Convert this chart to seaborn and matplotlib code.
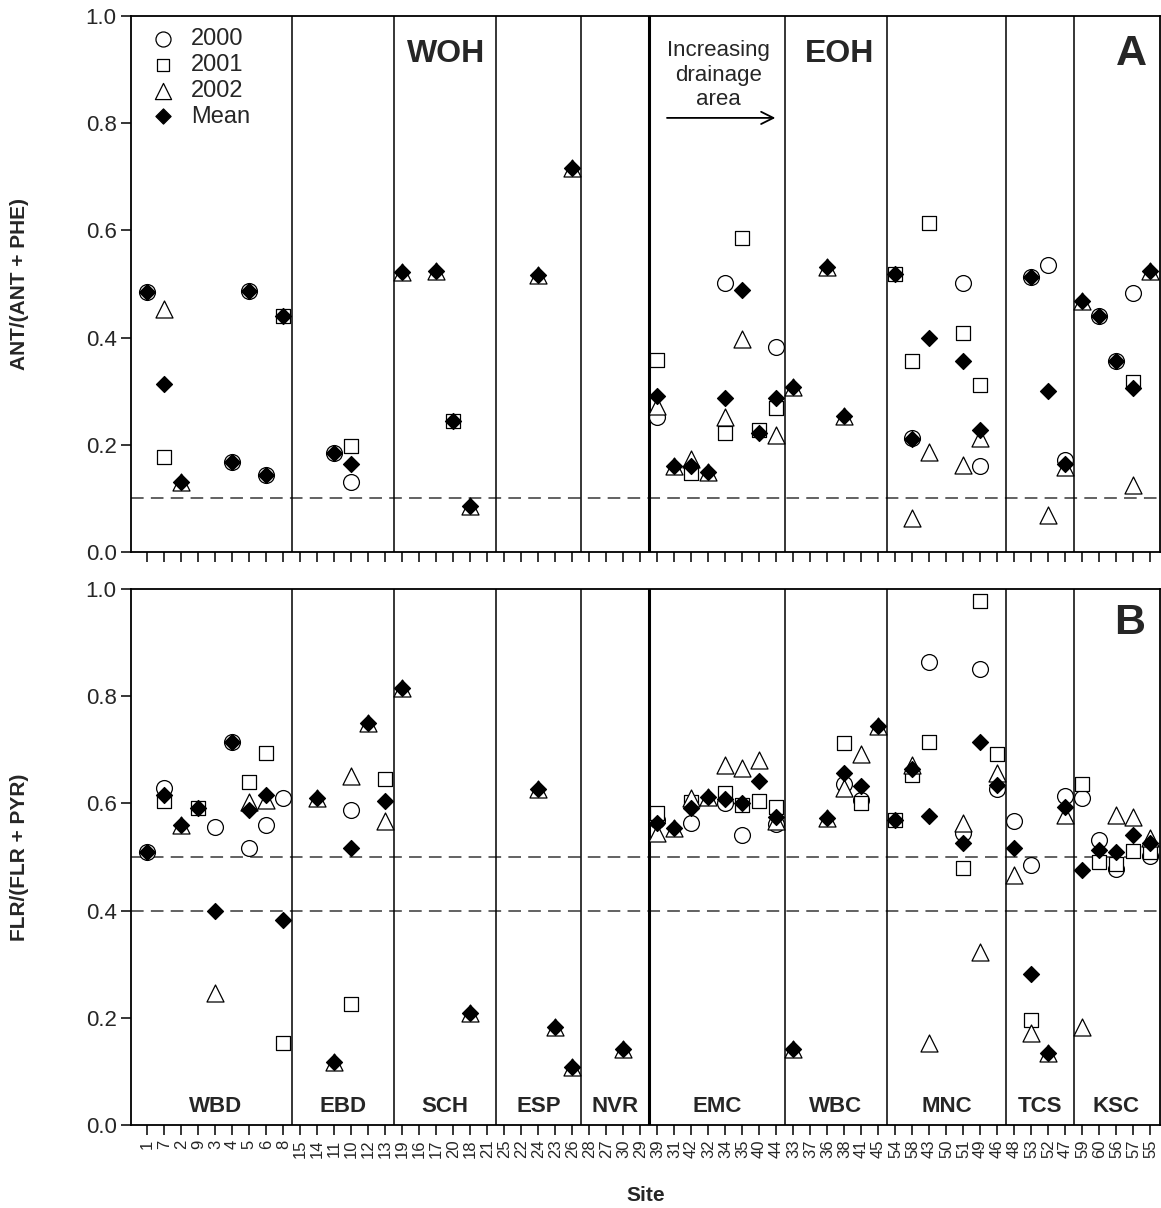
import numpy as np
import matplotlib.pyplot as plt
import seaborn as sns

nan = np.nan

# site order along the x axis, grouped by stream
sites = ["1", "7", "2", "9", "3", "4", "5", "6", "8",
         "15", "14", "11", "10", "12", "13",
         "19", "16", "17", "20", "18", "21",
         "25", "22", "24", "23", "26",
         "28", "27", "30", "29",
         "39", "31", "42", "32", "34", "35", "40", "44",
         "33", "37", "36", "38", "41", "45",
         "54", "58", "43", "50", "51", "49", "46",
         "48", "53", "52", "47",
         "59", "60", "56", "57", "55"]
groups = ["WBD", "EBD", "SCH", "ESP", "NVR", "EMC", "WBC", "MNC", "TCS", "KSC"]
group_sizes = [9, 6, 6, 5, 4, 8, 6, 7, 4, 5]

# panel A: ANT/(ANT + PHE)
ant_2000 = [0.485, nan, nan, nan, nan, 0.168, 0.487, 0.144, nan,
            nan, nan, 0.185, 0.131, nan, nan,
            nan, nan, nan, nan, nan, nan,
            nan, nan, nan, nan, nan,
            nan, nan, nan, nan,
            0.252, nan, nan, nan, 0.502, nan, nan, 0.383,
            nan, nan, nan, nan, nan, nan,
            nan, 0.212, nan, nan, 0.502, 0.160, nan,
            nan, 0.513, 0.535, 0.172,
            nan, 0.440, 0.356, 0.484, nan]
ant_2001 = [nan, 0.177, nan, nan, nan, nan, nan, nan, 0.440,
            nan, nan, nan, 0.198, nan, nan,
            nan, nan, nan, 0.245, nan, nan,
            nan, nan, nan, nan, nan,
            nan, nan, nan, nan,
            0.358, nan, 0.148, nan, 0.222, 0.586, 0.228, 0.268,
            nan, nan, nan, nan, nan, nan,
            0.518, 0.356, 0.614, nan, 0.408, 0.312, nan,
            nan, nan, nan, nan,
            nan, nan, nan, 0.317, nan]
ant_2002 = [nan, 0.453, 0.131, nan, nan, nan, nan, nan, nan,
            nan, nan, nan, nan, nan, nan,
            0.522, nan, 0.524, nan, 0.086, nan,
            nan, nan, 0.516, nan, 0.717,
            nan, nan, nan, nan,
            0.272, 0.160, 0.173, 0.150, 0.252, 0.397, nan, 0.218,
            0.308, nan, 0.532, 0.254, nan, nan,
            nan, 0.063, 0.187, nan, 0.162, 0.212, nan,
            nan, nan, 0.070, 0.158,
            0.468, nan, nan, 0.125, 0.524]
ant_mean = [0.485, 0.313, 0.131, nan, nan, 0.168, 0.487, 0.144, 0.440,
            nan, nan, 0.185, 0.164, nan, nan,
            0.522, nan, 0.524, 0.245, 0.086, nan,
            nan, nan, 0.516, nan, 0.717,
            nan, nan, nan, nan,
            0.291, 0.160, 0.160, 0.150, 0.288, 0.489, 0.222, 0.288,
            0.308, nan, 0.532, 0.254, nan, nan,
            0.518, 0.210, 0.400, nan, 0.356, 0.228, nan,
            nan, 0.513, 0.300, 0.165,
            0.468, 0.440, 0.356, 0.306, 0.524]

# panel B: FLR/(FLR + PYR)
flr_2000 = [0.509, 0.628, nan, nan, 0.556, 0.714, 0.517, 0.560, 0.610,
            nan, nan, nan, 0.588, nan, nan,
            nan, nan, nan, nan, nan, nan,
            nan, nan, nan, nan, nan,
            nan, nan, nan, nan,
            0.569, nan, 0.563, nan, 0.600, 0.541, nan, 0.562,
            nan, nan, nan, 0.636, 0.606, nan,
            nan, nan, 0.864, nan, 0.545, 0.851, 0.627,
            0.567, 0.485, nan, 0.614,
            0.610, 0.532, 0.477, nan, 0.502]
flr_2001 = [nan, 0.605, nan, 0.591, nan, nan, 0.640, 0.694, 0.153,
            nan, nan, nan, 0.226, nan, 0.646,
            nan, nan, nan, nan, nan, nan,
            nan, nan, nan, nan, nan,
            nan, nan, nan, nan,
            0.582, nan, 0.603, nan, 0.619, 0.597, 0.604, 0.593,
            nan, nan, nan, 0.713, 0.600, nan,
            0.569, 0.653, 0.714, nan, 0.479, 0.978, 0.692,
            nan, 0.196, nan, nan,
            0.636, 0.491, 0.487, 0.511, 0.510]
flr_2002 = [nan, nan, 0.560, nan, 0.246, nan, 0.603, 0.606, nan,
            nan, 0.610, 0.118, 0.651, 0.750, 0.567,
            0.815, nan, nan, nan, 0.209, nan,
            nan, nan, 0.627, 0.183, 0.108,
            nan, nan, 0.142, nan,
            0.545, 0.554, 0.610, 0.612, 0.672, 0.666, 0.681, 0.567,
            0.142, nan, 0.573, 0.628, 0.692, 0.745,
            nan, 0.672, 0.153, nan, 0.563, 0.323, 0.656,
            0.466, 0.172, 0.135, 0.578,
            0.183, nan, 0.578, 0.574, 0.535]
flr_mean = [0.509, 0.616, 0.560, 0.591, 0.400, 0.714, 0.587, 0.616, 0.383,
            nan, 0.610, 0.118, 0.517, 0.750, 0.605,
            0.815, nan, nan, nan, 0.209, nan,
            nan, nan, 0.627, 0.183, 0.108,
            nan, nan, 0.142, nan,
            0.563, 0.554, 0.591, 0.612, 0.608, 0.601, 0.642, 0.574,
            0.142, nan, 0.573, 0.657, 0.632, 0.745,
            0.569, 0.664, 0.576, nan, 0.526, 0.715, 0.634,
            0.517, 0.282, 0.135, 0.594,
            0.476, 0.513, 0.509, 0.541, 0.526]

sns.set_style("ticks")
plt.rcParams["font.family"] = ["Liberation Sans", "DejaVu Sans"]

x = np.arange(len(sites))
bounds = np.cumsum(group_sizes)


def draw_panel(ax, y2000, y2001, y2002, ymean):
    style = dict(ax=ax, legend=False, linewidth=0.9, zorder=3)
    sns.scatterplot(x=x, y=y2000, marker="o", s=130, color="white", edgecolor="black", label="2000", **style)
    sns.scatterplot(x=x, y=y2001, marker="s", s=90, color="white", edgecolor="black", label="2001", **style)
    sns.scatterplot(x=x, y=y2002, marker="^", s=150, color="white", edgecolor="black", label="2002", **style)
    sns.scatterplot(x=x, y=ymean, marker="D", s=66, color="black", edgecolor="black", label="Mean", **style)
    # stream dividers; the thick one splits WOH and EOH
    for i, b in enumerate(bounds[:-1]):
        ax.axvline(b - 0.5, color="black", lw=2.2 if i == 4 else 1.1, zorder=1)
    ax.set_xlim(-0.95, len(sites) - 0.45)
    ax.set_ylim(0, 1)
    ax.set_yticks(np.arange(0, 1.01, 0.2))
    ax.set_yticklabels([f"{v:.1f}" for v in np.arange(0, 1.01, 0.2)], fontsize=16)
    ax.set_xticks(x)
    ax.tick_params(axis="both", length=7, width=1.1, direction="out", color="black")
    for sp in ax.spines.values():
        sp.set_linewidth(1.3)
        sp.set_color("black")


fig = plt.figure(figsize=(11.61, 12.08), dpi=100)
ax1 = fig.add_axes([0.113, 0.543, 0.886, 0.4437])
ax2 = fig.add_axes([0.113, 0.0687, 0.886, 0.4437])

draw_panel(ax1, ant_2000, ant_2001, ant_2002, ant_mean)
draw_panel(ax2, flr_2000, flr_2001, flr_2002, flr_mean)

ax1.axhline(0.1, color="#555555", lw=1.3, ls=(0, (7, 4)), zorder=0)
ax2.axhline(0.5, color="#555555", lw=1.3, ls=(0, (7, 4)), zorder=0)
ax2.axhline(0.4, color="#555555", lw=1.3, ls=(0, (7, 4)), zorder=0)

ax1.set_xticklabels([])
ax2.set_xticklabels(sites, rotation=90, fontsize=12)

ax1.set_ylabel("ANT/(ANT + PHE)", fontsize=15, fontweight="bold")
ax2.set_ylabel("FLR/(FLR + PYR)", fontsize=15, fontweight="bold")
ax1.yaxis.set_label_coords(-0.099, 0.5)
ax2.yaxis.set_label_coords(-0.099, 0.5)
ax2.set_xlabel("Site", fontsize=15, fontweight="bold")
ax2.xaxis.set_label_coords(0.5, -0.114)

# stream names along the bottom of panel B
starts = np.concatenate([[0], bounds[:-1]])
for name, st, n in zip(groups, starts, group_sizes):
    ax2.text(st + (n - 1) / 2, 0.035, name, ha="center", va="center",
             fontsize=16, fontweight="bold")

ax1.text(17.6, 0.93, "WOH", ha="center", va="center", fontsize=23, fontweight="bold")
ax1.text(40.7, 0.93, "EOH", ha="center", va="center", fontsize=23, fontweight="bold")
ax1.text(57.9, 0.93, "A", ha="center", va="center", fontsize=31, fontweight="bold")
ax2.text(57.8, 0.937, "B", ha="center", va="center", fontsize=31, fontweight="bold")
ax1.text(33.6, 0.89, "Increasing\ndrainage\narea", ha="center", va="center",
         fontsize=16, linespacing=1.2)
ax1.annotate("", xy=(37.1, 0.81), xytext=(30.4, 0.81),
             arrowprops=dict(arrowstyle="->", color="black", lw=1.3, mutation_scale=22))

ax1.legend(loc="upper left", bbox_to_anchor=(0.008, 0.995), frameon=False,
           fontsize=17, handletextpad=0.6, labelspacing=0.16, borderaxespad=0,
           handlelength=1.2, markerscale=0.95)

fig.savefig("out.png", dpi=100)
